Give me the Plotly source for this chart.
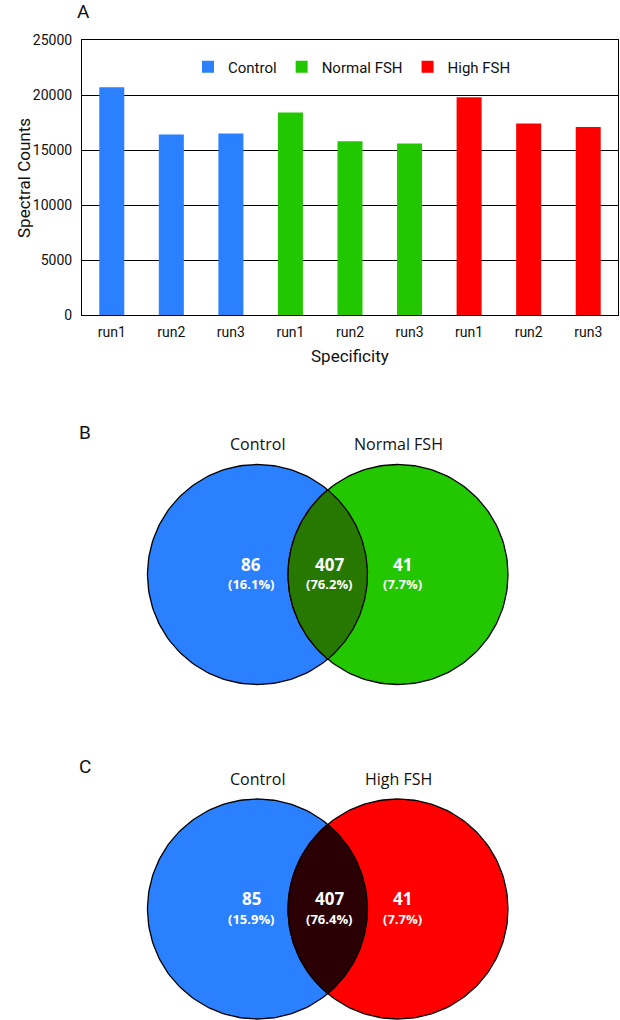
import numpy as np
import plotly.graph_objects as go

# ── data ───────────────────────────────────────────────────────────
RUNS    = ["run1", "run2", "run3"]
GROUPS  = ["Control", "Normal FSH", "High FSH"]
COLORS  = ["#2a80ff", "#22c700", "#ff0000"]
CONTROL = [20700, 16400, 16500]
NORMAL  = [18400, 15800, 15600]
HIGH    = [19800, 17400, 17100]

# venn B: Control vs Normal FSH, venn C: Control vs High FSH
VENN_B_SETS   = ["Control", "Normal FSH"]
VENN_B_COUNTS = [86, 407, 41]
VENN_B_PCT    = [16.1, 76.2, 7.7]
VENN_C_SETS   = ["Control", "High FSH"]
VENN_C_COUNTS = [85, 407, 41]
VENN_C_PCT    = [15.9, 76.4, 7.7]

W, H = 620, 1020
FONT_BAR  = "Roboto, Liberation Sans, sans-serif"
FONT_VENN = "Open Sans, Noto Sans, DejaVu Sans, sans-serif"

fig = go.Figure()

# ── A: bar chart ───────────────────────────────────────────────────
cats_all = []
for g, vals, col in zip(GROUPS, [CONTROL, NORMAL, HIGH], COLORS):
    cats = [f"{g}|{r}" for r in RUNS]
    cats_all += cats
    fig.add_trace(go.Bar(x=cats, y=vals, name=g, marker=dict(color=col, line=dict(width=0)),
                         width=0.42, xaxis="x", yaxis="y"))

# ── B / C: venn diagrams (pixel coordinate axis) ───────────────────
R = 110
def circle(cx, cy, n=200):
    t = np.linspace(0, 2*np.pi, n)
    return cx + R*np.cos(t), cy + R*np.sin(t)

def lens(c1, c2, cy, n=100):
    d = c2 - c1
    h = np.sqrt(R**2 - (d/2)**2)
    a = np.arcsin(h / R)
    t1 = np.linspace(-a, a, n)                 # right arc of left circle
    t2 = np.linspace(np.pi - a, np.pi + a, n)  # left arc of right circle
    x = np.concatenate([c1 + R*np.cos(t1), c2 + R*np.cos(t2)])
    y = np.concatenate([cy + R*np.sin(t1), cy + R*np.sin(t2)])
    return x, y

def venn(cy, sets, counts, pct, col2, overlap, label_y, panel, panel_y):
    c1, c2 = 257.5, 398
    for cx, col in [(c1, COLORS[0]), (c2, col2)]:
        x, y = circle(cx, cy)
        fig.add_trace(go.Scatter(x=x, y=y, fill="toself", fillcolor=col, mode="lines",
                                 line=dict(color="black", width=1.3), showlegend=False,
                                 hoverinfo="skip", xaxis="x2", yaxis="y2"))
    x, y = lens(c1, c2, cy)
    fig.add_trace(go.Scatter(x=x, y=y, fill="toself", fillcolor=overlap, mode="lines",
                             line=dict(color="black", width=1.3), showlegend=False,
                             hoverinfo="skip", xaxis="x2", yaxis="y2"))
    for s, sx in zip(sets, [c1, c2]):
        fig.add_annotation(x=sx, y=label_y, text=s, showarrow=False, xref="x2", yref="y2",
                           yanchor="middle", font=dict(family=FONT_VENN, size=16, color="#111"))
    for cnt, p, tx in zip(counts, pct, [251, 329, 402]):
        fig.add_annotation(x=tx, y=cy - 10.5, text=f"<b>{cnt}</b>", showarrow=False,
                           xref="x2", yref="y2", yanchor="middle",
                           font=dict(family=FONT_VENN, size=17, color="white"))
        fig.add_annotation(x=tx, y=cy + 9.5, text=f"<b>({p}%)</b>", showarrow=False,
                           xref="x2", yref="y2", yanchor="middle",
                           font=dict(family=FONT_VENN, size=13, color="white"))
    fig.add_annotation(x=85, y=panel_y, text=panel, showarrow=False, xref="x2", yref="y2",
                       yanchor="middle", font=dict(family=FONT_BAR, size=19, color="#111"))

venn(574.5, VENN_B_SETS, VENN_B_COUNTS, VENN_B_PCT, COLORS[1], "#267800", 444, "B", 432)
venn(909, VENN_C_SETS, VENN_C_COUNTS, VENN_C_PCT, COLORS[2], "#2a0005", 779, "C", 766)

# panel A letter and axis titles
fig.add_annotation(x=75 / W, y=1 - 12 / H, text="A", showarrow=False, xref="paper", yref="paper",
                   yanchor="middle", font=dict(family=FONT_BAR, size=19, color="#111"))
fig.add_annotation(x=12 / W, y=1 - 178 / H, text="Spectral Counts", textangle=-90, showarrow=False,
                   xref="paper", yref="paper", yanchor="middle",
                   font=dict(family=FONT_BAR, size=17, color="#111"))
fig.add_annotation(x=350 / W, y=1 - 356 / H, text="Specificity", showarrow=False,
                   xref="paper", yref="paper", yanchor="middle",
                   font=dict(family=FONT_BAR, size=17, color="#111"))

fig.update_layout(
    width=W, height=H, margin=dict(l=0, r=0, t=0, b=0),
    paper_bgcolor="white", plot_bgcolor="rgba(0,0,0,0)",
    barmode="overlay",
    font=dict(family=FONT_BAR, size=14, color="#111"),
    xaxis=dict(domain=[82 / W, 618 / W], type="category", categoryorder="array",
               categoryarray=cats_all, tickvals=cats_all, ticktext=RUNS * 3,
               showline=True, linecolor="black", linewidth=1, mirror=True,
               ticks="outside", ticklen=4, tickcolor="rgba(0,0,0,0)", showgrid=False,
               tickfont=dict(size=14), anchor="y", automargin=False),
    yaxis=dict(domain=[1 - 315 / H, 1 - 40 / H], range=[0, 25000], dtick=5000, tickformat="d",
               showline=True, linecolor="black", linewidth=1, mirror=True,
               showgrid=True, gridcolor="black", gridwidth=1, zeroline=False,
               ticks="outside", ticklen=6, tickcolor="rgba(0,0,0,0)",
               tickfont=dict(size=14), anchor="x", automargin=False),
    xaxis2=dict(domain=[0, 1], range=[0, W], visible=False, anchor="y2", automargin=False),
    yaxis2=dict(domain=[0, 620 / H], range=[H, 400], visible=False, anchor="x2", automargin=False),
    legend=dict(orientation="h", x=352 / W, y=1 - 67 / H, xanchor="center", yanchor="middle",
                bgcolor="rgba(0,0,0,0)", font=dict(size=15), itemwidth=30,
                itemsizing="constant", tracegroupgap=0),
    showlegend=True,
)

fig.write_html("out.html", config={"displayModeBar": False},
               post_script="document.body.style.margin='0';")
